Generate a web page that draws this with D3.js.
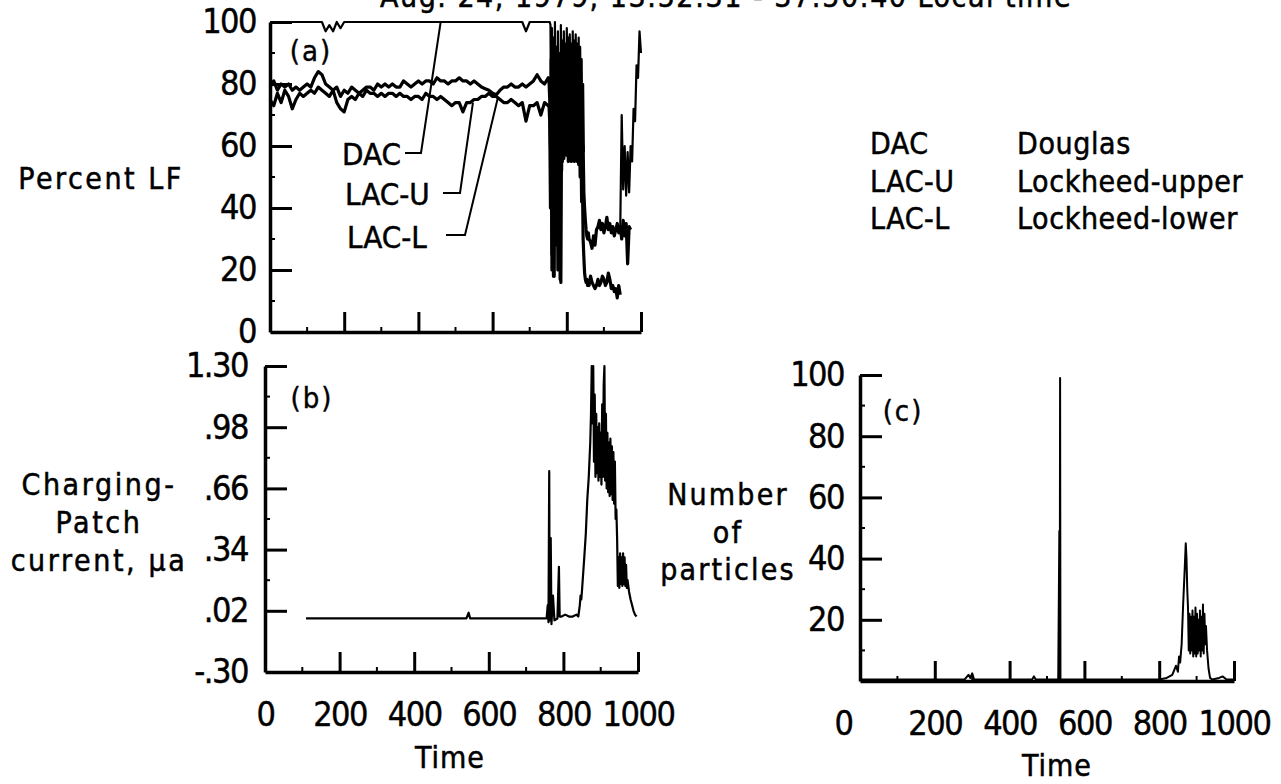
<!DOCTYPE html>
<html>
<head>
<meta charset="utf-8">
<script src="https://cdn.jsdelivr.net/npm/d3@7"></script>
<style>
  html, body { margin: 0; padding: 0; background: #fff; }
  svg { display: block; }
</style>
</head>
<body>
<svg id="chart" width="1281" height="784"></svg>
<script>
// ---------------------------------------------------------------
// Panel (a): percent LF for the three cloud sensors
// time grid: 0-750 every 10, 752-860 every 2, 864-1000 every 4
// ---------------------------------------------------------------
const timeA = [].concat(d3.range(0, 751, 10), d3.range(752, 861, 2), d3.range(864, 1001, 4));

const dacA = [
  // 0 - 750
  100,100,100,100,100,100,100,100,100,100,
  100,100,100,100,100,97,99,97,100,98,
  100,100,100,100,100,100,100,100,100,100,
  100,100,100,100,100,100,100,100,100,100,
  100,100,100,100,100,100,100,100,100,100,
  100,100,100,100,100,100,100,100,100,100,
  100,100,100,100,100,100,100,100,100,97,
  100,100,100,100,100,100,
  // 752 - 860
  100,100,99,55,98,25,95,40,100,50,
  92,35,97,55,90,45,99,60,94,68,
  97,72,93,70,98,74,95,72,96,75,
  93,70,97,73,94,71,96,74,93,70,
  95,72,92,68,88,60,80,58,null,null,
  null,null,null,null,null,
  // 864 - 1000
  null,null,null,null,null,null,null,null,null,null,
  null,null,null,null,null,null,null,null,null,null,
  33,70,46,60,44,58,45,60,55,72,
  68,86,82,97,90
];

const lacU = [
  // 0 - 750
  79,81,78,80,79,80,78,79,78,79,
  80,79,82,84,83,80,79,78,79,76,
  78,77,79,78,77,78,79,79,78,80,
  79,80,79,80,79,79,81,80,79,80,
  81,80,81,81,80,82,81,81,80,81,
  81,82,81,81,80,81,80,79,78.5,78,
  77,76.5,78,79,79,80,79,79,80,79,
  80,81,83,81,80,82,
  // 752 - 860
  81,75,60,88,20,85,45,18,80,35,
  85,50,88,40,82,17,78,52,86,58,
  84,60,88,62,85,58,87,60,84,57,
  86,62,83,58,87,60,84,56,85,60,
  82,55,78,56,70,50,60,45,40,36,
  33,31,30,32,30,
  // 864 - 1000
  29,27,31,28,33,34,36,33,35,32,
  34,37,33,35,32,34,31,33,35,32,
  34,30,36,31,35,22,34,33,null,null,
  null,null,null,null,null
];

const lacL = [
  // 0 - 750
  75,73,77,74,78,76,72,75,77,76,
  77,78,77,79,78,77,76,78,74,72,
  71,75,76,75,77,76,78,77,77,76,
  77,76,77,77,76,77,76,76,75,76,
  76,75,77,76,76,75,76,75,74,73,
  74,74,71,74,74,75,75,76,76,77,
  76,76,75,74,74,75,74,73,74,68,
  73,73,74,70,74,73,
  // 752 - 860
  73,68,40,78,25,75,18,70,28,76,
  30,72,20,74,38,68,16,70,55,75,
  56,74,58,76,57,75,55,77,58,74,
  55,76,57,73,55,75,58,73,55,72,
  54,68,50,62,42,50,30,24,19,17,
  16,17,15,16,15,
  // 864 - 1000
  18,16,15,14,15,17,15,16,18,17,
  15,16,19,17,14,15,13,14,11,15,
  12,null,null,null,null,null,null,null,null,null,
  null,null,null,null,null
];

// ---------------------------------------------------------------
// Panel (b): charging-patch current, microamperes
// ---------------------------------------------------------------
const timeB = [
  110,200,300,400,500,540,546,550,600,700,755,
  758,760,762,763,766,768,772,776,784,788,790,
  795,805,815,825,835,840,844,846,848,
  850,856,860,864,868,872,874,876,878,880,
  882,884,886,888,890,892,894,896,898,900,
  902,904,906,908,910,912,914,916,918,920,
  922,924,926,928,930,932,934,936,938,940,
  942,944,946,948,950,952,954,956,958,960,
  962,964,966,968,970,972,976,980,984,988,
  992,996
];
const currentB = [
  -0.02,-0.02,-0.02,-0.02,-0.02,-0.02,0.01,-0.02,-0.02,-0.02,-0.02,
  0.05,-0.04,0.75,-0.03,0.40,-0.05,0.10,-0.03,-0.02,0.25,-0.01,
  -0.01,0.00,-0.01,-0.01,0.00,-0.01,0.05,0.10,0.08,
  0.13,0.30,0.42,0.60,0.72,0.90,1.05,1.30,1.00,1.30,
  0.80,1.15,0.72,1.05,0.74,0.98,0.70,1.00,0.72,0.95,
  0.68,1.10,0.72,1.20,1.30,0.70,1.05,0.66,0.95,0.64,
  0.90,0.62,0.92,0.63,0.88,0.60,0.85,0.58,0.80,0.50,
  0.55,0.40,0.15,0.30,0.14,0.32,0.16,0.30,0.15,0.32,
  0.16,0.30,0.15,0.26,0.14,0.18,0.12,0.08,0.05,0.02,
  0.00,-0.01
];

// ---------------------------------------------------------------
// Panel (c): number of particles
// ---------------------------------------------------------------
const timeC = [
  0,100,200,280,290,295,300,305,400,460,465,470,
  530,533,534,535,536,600,700,800,820,835,845,850,
  853,856,860,864,868,871,873,875,877,879,881,883,
  885,887,889,891,893,895,897,899,901,903,905,907,
  909,911,913,915,917,919,921,923,925,928,932,936,
  942,960,970,980,1000
];
const particlesC = [
  0.5,0.5,0.5,0.5,2,1,2.5,0.5,0.5,0.5,1.5,0.5,
  0.5,49,0.5,99,0.5,0.5,0.5,0.5,1,2,5,3,
  8,6,12,25,36,45,40,30,24,10,22,9,
  21,10,23,8,21,9,24,8,22,9,20,10,
  23,8,21,10,25,9,22,12,18,10,4,1,
  0.5,1,1.5,0.5,0.5
];

// ---------------------------------------------------------------
// Axis ticks and labels
// ---------------------------------------------------------------
const timeTicks = [0, 200, 400, 600, 800, 1000];
const timeTickLabels = ["0", "200", "400", "600", "800", "1000"];
const timeMinorTicks = [100, 300, 500, 700, 900];

const lfTicks = [0, 20, 40, 60, 80, 100];
const lfTickLabels = ["0", "20", "40", "60", "80", "100"];
const lfMinorTicks = [10, 30, 50, 70, 90];

const curTicks = [-0.30, 0.02, 0.34, 0.66, 0.98, 1.30];
const curTickLabels = ["-.30", ".02", ".34", ".66", ".98", "1.30"];
const curMinorTicks = [0.18, 0.50, 0.82, 1.14];

const partTicks = [20, 40, 60, 80, 100];
const partTickLabels = ["20", "40", "60", "80", "100"];
const partMinorTicks = [10, 30, 50, 70, 90];

const legendCodes = ["DAC", "LAC-U", "LAC-L"];
const legendNames = ["Douglas", "Lockheed-upper", "Lockheed-lower"];

const headerText = "Aug. 24, 1979, 13:52:31 - 37:50:40 Local time";

// ---------------------------------------------------------------
const NUM_FONT = '"Liberation Sans Narrow", "DejaVu Sans Condensed", sans-serif';
const TXT_FONT = '"DejaVu Sans Condensed", "DejaVu Sans", sans-serif';

const svg = d3.select("#chart");

function labelFrom(values, labels) {
  return v => labels[values.indexOf(v)];
}

function drawPanel(cfg) {
  const x = d3.scaleLinear().domain([0, 1000]).range(cfg.xRange);
  const y = d3.scaleLinear().domain(cfg.yDomain).range(cfg.yRange);
  const g = svg.append("g");

  // minor ticks
  g.append("g").selectAll("line").data(cfg.yMinor).join("line")
    .attr("x1", cfg.xRange[0]).attr("x2", cfg.xRange[0] + 5)
    .attr("y1", d => y(d)).attr("y2", d => y(d))
    .attr("stroke", "#000").attr("stroke-width", 2);
  g.append("g").selectAll("line").data(timeMinorTicks).join("line")
    .attr("x1", d => x(d)).attr("x2", d => x(d))
    .attr("y1", cfg.yRange[0]).attr("y2", cfg.yRange[0] - 5)
    .attr("stroke", "#000").attr("stroke-width", 2);

  // y axis: ticks point inward, labels to the left
  const yAxis = d3.axisLeft(y)
    .tickValues(cfg.yTicks)
    .tickFormat(labelFrom(cfg.yTicks, cfg.yLabels))
    .tickSizeInner(-22).tickSizeOuter(0).tickPadding(cfg.yPad);
  const ya = g.append("g").attr("transform", `translate(${cfg.xRange[0]},0)`).call(yAxis);

  // x axis: ticks point up, labels below
  const xAxis = d3.axisBottom(x)
    .tickValues(timeTicks)
    .tickFormat(cfg.xLabels ? labelFrom(timeTicks, timeTickLabels) : () => "")
    .tickSizeInner(-20).tickSizeOuter(0).tickPadding(30);
  const xa = g.append("g").attr("transform", `translate(0,${cfg.yRange[0]})`).call(xAxis);

  [ya, xa].forEach(a => {
    a.attr("font-family", NUM_FONT).attr("font-size", 34);
    a.select(".domain").attr("stroke-width", 3.5).attr("stroke", "#000");
    a.selectAll(".tick line").attr("stroke-width", 3).attr("stroke", "#000");
    a.selectAll(".tick text").attr("fill", "#000").attr("letter-spacing", -1.5)
      .attr("stroke", "#000").attr("stroke-width", 0.4);
  });
  // the 0 tick of the y axis lies on the time axis; its label stays
  ya.selectAll(".tick").filter(d => d === cfg.yDomain[0]).select("line").remove();
  if (cfg.zeroShift) {
    xa.selectAll(".tick").filter(d => d === 0).select("text").attr("dx", cfg.zeroShift);
  }

  // series
  const line = d3.line()
    .defined(d => d.v != null)
    .x(d => x(d.t)).y(d => y(d.v));
  cfg.series.forEach(s => {
    const pts = s.times.map((t, i) => ({ t, v: s.values[i] }));
    g.append("path").datum(pts)
      .attr("d", line)
      .attr("fill", "none")
      .attr("stroke", "#000")
      .attr("stroke-width", s.width)
      .attr("stroke-linejoin", "round");
  });

  // panel tag
  g.append("text").attr("x", cfg.tag[1]).attr("y", cfg.tag[2])
    .attr("font-family", TXT_FONT).attr("font-size", 29)
    .attr("letter-spacing", 2).attr("text-anchor", "middle")
    .attr("stroke", "#000").attr("stroke-width", 0.4)
    .text(cfg.tag[0]);
  return { x, y, g };
}

// (a)
const pa = drawPanel({
  xRange: [270, 641], yDomain: [0, 100], yRange: [332, 22],
  yTicks: lfTicks, yLabels: lfTickLabels, yMinor: lfMinorTicks, yPad: 14,
  xLabels: false,
  tag: ["(a)", 311, 61],
  series: [
    { times: timeA, values: dacA, width: 2.2 },
    { times: timeA, values: lacU, width: 3.2 },
    { times: timeA, values: lacL, width: 3.2 }
  ]
});

// (b)
const pb = drawPanel({
  xRange: [265, 638], yDomain: [-0.30, 1.30], yRange: [672, 366],
  yTicks: curTicks, yLabels: curTickLabels, yMinor: curMinorTicks, yPad: 17,
  xLabels: true,
  tag: ["(b)", 312, 408],
  series: [{ times: timeB, values: currentB, width: 2.2 }]
});

// (c)
const pc = drawPanel({
  xRange: [860, 1234], yDomain: [0, 100], yRange: [681, 375],
  yTicks: partTicks, yLabels: partTickLabels, yMinor: partMinorTicks, yPad: 16,
  xLabels: true, zeroShift: -17,
  tag: ["(c)", 903, 421],
  series: [{ times: timeC, values: particlesC, width: 2 }]
});

// sensor labels with leader lines inside panel (a)
const callouts = [
  { text: legendCodes[0], x: 342, y: 165, leader: [[405, 153], [421, 153]], tx: 460, ty: 100 },
  { text: legendCodes[1], x: 345, y: 205, leader: [[443, 193], [460, 193]], tx: 547, ty: 74 },
  { text: legendCodes[2], x: 347, y: 248, leader: [[446, 235], [465, 235]], tx: 614, ty: 75.5 }
];
callouts.forEach(c => {
  const end = [pa.x(c.tx), pa.y(c.ty)];
  pa.g.append("path")
    .attr("d", d3.line()([c.leader[0], c.leader[1], end]))
    .attr("fill", "none").attr("stroke", "#000").attr("stroke-width", 2);
  pa.g.append("text").attr("x", c.x).attr("y", c.y)
    .attr("font-family", TXT_FONT).attr("font-size", 31)
    .attr("stroke", "#000").attr("stroke-width", 0.5)
    .text(c.text);
});

// legend
const legendY = [154, 192, 229];
legendCodes.forEach((code, i) => {
  svg.append("text").attr("x", 870).attr("y", legendY[i])
    .attr("font-family", TXT_FONT).attr("font-size", 30).attr("letter-spacing", 0.5)
    .attr("stroke", "#000").attr("stroke-width", 0.5)
    .text(code);
  svg.append("text").attr("x", 1017).attr("y", legendY[i])
    .attr("font-family", TXT_FONT).attr("font-size", 30).attr("letter-spacing", 0.6)
    .attr("stroke", "#000").attr("stroke-width", 0.5)
    .text(legendNames[i]);
});

// axis titles
function title(lines, cx, baselines, spacing) {
  lines.forEach((t, i) => {
    svg.append("text").attr("x", cx).attr("y", baselines[i])
      .attr("text-anchor", "middle")
      .attr("font-family", TXT_FONT).attr("font-size", 30)
      .attr("letter-spacing", spacing)
      .attr("stroke", "#000").attr("stroke-width", 0.5)
      .text(t);
  });
}
title(["Percent LF"], 101, [189], 2.5);
title(["Charging-", "Patch", "current, \u00b5a"], 99, [495, 533, 571], 2.6);
title(["Number", "of", "particles"], 728, [505, 543, 580], 2.2);
title(["Time"], 450, [768], 1);
title(["Time"], 1057, [776], 1);

// header line, running above the top edge
svg.append("text").attr("x", 1072).attr("y", 7)
  .attr("text-anchor", "end")
  .attr("font-family", TXT_FONT).attr("font-size", 30).attr("letter-spacing", 1.5)
  .attr("stroke", "#000").attr("stroke-width", 0.5)
  .text(headerText);
</script>
</body>
</html>
